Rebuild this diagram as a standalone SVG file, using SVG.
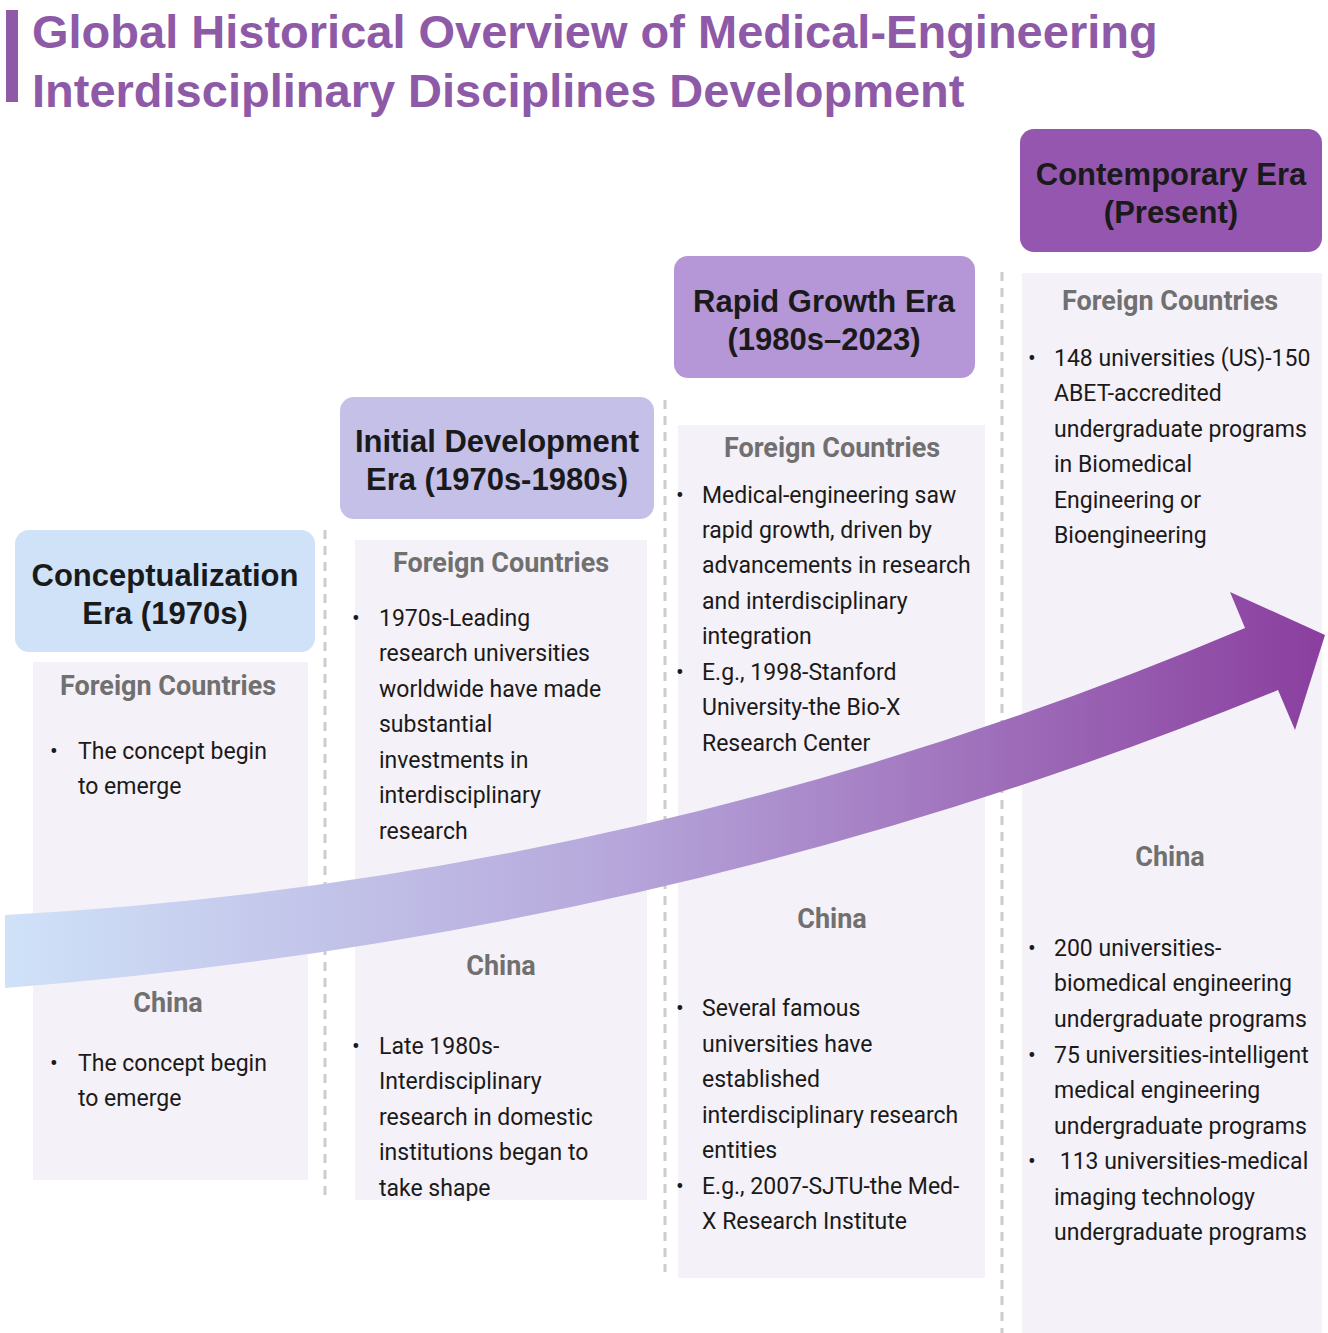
<svg xmlns="http://www.w3.org/2000/svg" width="1328" height="1333" viewBox="0 0 1328 1333">
<defs>
<linearGradient id="ag" x1="0" y1="0" x2="1" y2="0">
<stop offset="0" stop-color="#cfe2f8"/><stop offset="0.45" stop-color="#b7a9dc"/><stop offset="1" stop-color="#8a3e9e"/>
</linearGradient>
<style>
.hd{font-family:"Liberation Sans",Arial,sans-serif;font-weight:bold;font-size:31px;fill:#1a1a1a;text-anchor:middle}
.sh{font-family:Roboto,"Liberation Sans",sans-serif;font-weight:bold;font-size:27px;fill:#707070;text-anchor:middle}
.bt{font-family:Roboto,"Liberation Sans",sans-serif;font-size:23px;fill:#1a1a1a}
.pn{fill:#f5f1f8}
.dl{stroke:#cccccc;stroke-width:3;stroke-dasharray:9,7}
</style>
</defs>
<rect width="1328" height="1333" fill="#ffffff"/>
<g id="title">
<rect x="6" y="10" width="12" height="92" fill="#8e5aa8"/>
<text x="32" y="48" font-family="Liberation Sans,Arial,sans-serif" font-weight="bold" font-size="47" fill="#8e5aa8">Global Historical Overview of Medical-Engineering</text>
<text x="32" y="107" font-family="Liberation Sans,Arial,sans-serif" font-weight="bold" font-size="47" fill="#8e5aa8">Interdisciplinary Disciplines Development</text>
</g>
<g id="dividers">
<line class="dl" x1="325" y1="530" x2="325" y2="1195"/>
<line class="dl" x1="665" y1="400" x2="665" y2="1272"/>
<line class="dl" x1="1002" y1="272" x2="1002" y2="1333"/>
</g>
<g id="col1">
<rect x="15" y="530" width="300" height="122" rx="14" fill="#cfe2f8"/>
<text class="hd" x="165" y="586">Conceptualization</text>
<text class="hd" x="165" y="624">Era (1970s)</text>
<rect class="pn" x="33" y="662" width="275" height="518"/>
<text class="sh" x="168" y="695">Foreign Countries</text>
<text class="bt"><tspan x="50" y="759">•</tspan><tspan x="78" y="759">The concept begin</tspan><tspan x="78" y="794">to emerge</tspan></text>
<text class="sh" x="168" y="1012">China</text>
<text class="bt"><tspan x="50" y="1071">•</tspan><tspan x="78" y="1071">The concept begin</tspan><tspan x="78" y="1106">to emerge</tspan></text>
</g>
<g id="col2">
<rect x="340" y="397" width="314" height="122" rx="14" fill="#c5c0e8"/>
<text class="hd" x="497" y="452">Initial Development</text>
<text class="hd" x="497" y="490">Era (1970s-1980s)</text>
<rect class="pn" x="355" y="540" width="292" height="660"/>
<text class="sh" x="501" y="572">Foreign Countries</text>
<text class="bt"><tspan x="352" y="626">•</tspan><tspan x="379" y="626">1970s-Leading</tspan><tspan x="379" y="661">research universities</tspan><tspan x="379" y="697">worldwide have made</tspan><tspan x="379" y="732">substantial</tspan><tspan x="379" y="768">investments in</tspan><tspan x="379" y="803">interdisciplinary</tspan><tspan x="379" y="839">research</tspan></text>
<text class="sh" x="501" y="975">China</text>
<text class="bt"><tspan x="352" y="1054">•</tspan><tspan x="379" y="1054">Late 1980s-</tspan><tspan x="379" y="1089">Interdisciplinary</tspan><tspan x="379" y="1125">research in domestic</tspan><tspan x="379" y="1160">institutions began to</tspan><tspan x="379" y="1196">take shape</tspan></text>
</g>
<g id="col3">
<rect x="674" y="256" width="301" height="122" rx="14" fill="#b596d6"/>
<text class="hd" x="824" y="312">Rapid Growth Era</text>
<text class="hd" x="824" y="350">(1980s–2023)</text>
<rect class="pn" x="678" y="425" width="307" height="853"/>
<text class="sh" x="832" y="457">Foreign Countries</text>
<text class="bt"><tspan x="676" y="503">•</tspan><tspan x="702" y="503">Medical-engineering saw</tspan><tspan x="702" y="538">rapid growth, driven by</tspan><tspan x="702" y="573">advancements  in research</tspan><tspan x="702" y="609">and interdisciplinary</tspan><tspan x="702" y="644">integration</tspan><tspan x="676" y="680">•</tspan><tspan x="702" y="680">E.g., 1998-Stanford</tspan><tspan x="702" y="715">University-the Bio-X</tspan><tspan x="702" y="751">Research Center</tspan></text>
<text class="sh" x="832" y="928">China</text>
<text class="bt"><tspan x="676" y="1016">•</tspan><tspan x="702" y="1016">Several famous</tspan><tspan x="702" y="1052">universities have</tspan><tspan x="702" y="1087">established</tspan><tspan x="702" y="1123">interdisciplinary research</tspan><tspan x="702" y="1158">entities</tspan><tspan x="676" y="1194">•</tspan><tspan x="702" y="1194">E.g., 2007-SJTU-the Med-</tspan><tspan x="702" y="1229">X Research Institute</tspan></text>
</g>
<g id="col4">
<rect x="1020" y="129" width="302" height="123" rx="14" fill="#9556b0"/>
<text class="hd" x="1171" y="185">Contemporary Era</text>
<text class="hd" x="1171" y="223">(Present)</text>
<rect class="pn" x="1022" y="273" width="300" height="1060"/>
<text class="sh" x="1170" y="310">Foreign Countries</text>
<text class="bt"><tspan x="1028" y="366">•</tspan><tspan x="1054" y="366">148 universities (US)-150</tspan><tspan x="1054" y="401">ABET-accredited</tspan><tspan x="1054" y="437">undergraduate programs</tspan><tspan x="1054" y="472">in Biomedical</tspan><tspan x="1054" y="508">Engineering  or</tspan><tspan x="1054" y="543">Bioengineering</tspan></text>
<text class="sh" x="1170" y="866">China</text>
<text class="bt"><tspan x="1028" y="956">•</tspan><tspan x="1054" y="956">200 universities-</tspan><tspan x="1054" y="991">biomedical engineering</tspan><tspan x="1054" y="1027">undergraduate programs</tspan><tspan x="1028" y="1063">•</tspan><tspan x="1054" y="1063">75 universities-intelligent</tspan><tspan x="1054" y="1098">medical engineering</tspan><tspan x="1054" y="1134">undergraduate programs</tspan><tspan x="1028" y="1169">•</tspan><tspan x="1054" y="1169"> 113 universities-medical</tspan><tspan x="1054" y="1205">imaging technology</tspan><tspan x="1054" y="1240">undergraduate programs</tspan></text>
</g>
<g id="connectors">
<path d="M5,915 Q650,880 1245,628 L1230,592 L1325,635 L1295,730 L1278,690 Q680,935 5,988 Z" fill="url(#ag)"/>
</g>
</svg>
